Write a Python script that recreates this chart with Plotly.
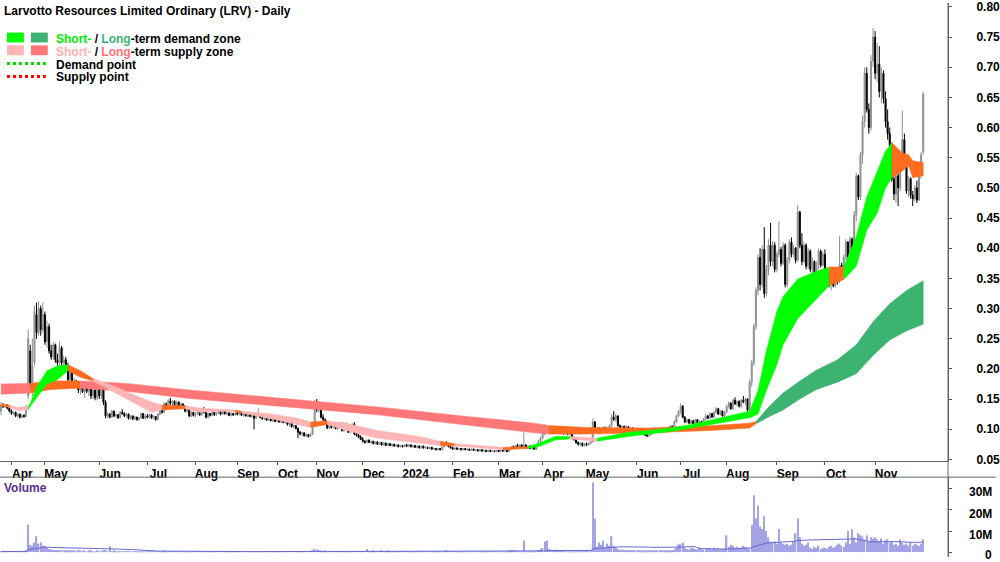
import plotly.graph_objects as go
import pandas as pd

FONT = "Liberation Sans Narrow, Arial Narrow, Liberation Sans, Arial, sans-serif"

month_labels = ["Apr", "May", "Jun", "Jul", "Aug", "Sep", "Oct", "Nov", "Dec", "2024",
                "Feb", "Mar", "Apr", "May", "Jun", "Jul", "Aug", "Sep", "Oct", "Nov"]

# Daily bars (open, high, low, close) in thousandths of a dollar, grouped by month
bars_mar23 = [(130,145,123,140),(140,143,135,138),(138,142,135,140),(140,141,133,135),(135,138,128,130)]
bars_apr23 = [(130,133,124,126),(126,130,124,128),(128,129,120,122),(122,126,120,125),(125,126,118,120),
              (120,124,118,123),(123,125,119,121),(121,140,120,135),(155,265,150,250),(230,240,165,172),
              (170,250,155,205),(210,305,205,295),(290,310,250,260),(260,312,255,300),(300,305,255,265),
              (265,310,260,290)]
bars_may23 = [(290,295,240,245),(245,280,235,270),(270,275,225,230),(230,240,215,220),(220,245,215,240),
              (240,242,210,215),(215,225,205,210),(210,245,205,235),(235,238,205,210),(210,222,200,215),
              (215,220,200,205),(205,210,178,182),(182,198,178,195),(195,197,175,178),(178,185,170,180),
              (180,182,168,170),(170,176,160,165),(165,172,158,170),(170,172,160,162),(162,178,152,175),
              (175,177,160,163),(163,170,155,167),(167,168,150,155),(155,168,150,165),(165,166,148,152),
              (152,170,148,168)]
bars_jun23 = [(168,172,150,155),(155,170,150,166),(166,168,140,145),(145,148,118,122),(122,128,118,125),
              (125,127,118,120),(120,132,119,130),(130,131,120,122),(122,126,118,124),(124,125,117,119),
              (119,130,118,128),(128,133,124,126),(126,128,120,122),(122,127,119,125),(125,126,116,118),
              (118,124,116,122),(122,123,115,117),(117,122,115,120),(120,121,114,116),(116,120,114,119),
              (119,128,117,126),(126,127,117,118),(118,124,116,122)]
bars_jul23 = [(122,125,118,120),(120,126,118,124),(124,125,117,119),(119,123,116,121),(121,122,114,116),
              (116,127,115,125),(125,133,123,131),(131,135,126,128),(128,145,127,142),(142,144,133,135),
              (135,150,134,147),(147,152,140,143),(143,148,138,146),(146,148,138,140),(140,147,138,145),
              (145,146,136,138),(138,144,136,142),(142,143,135,137),(137,140,128,130),(130,136,127,134),
              (134,135,120,122),(122,130,120,128),(128,129,121,123)]
bars_aug23 = [(123,128,120,126),(126,132,124,130),(130,131,122,124),(124,135,122,133),(133,137,126,128),
              (128,130,118,120),(120,128,118,126),(126,127,121,123),(123,130,122,128),(128,129,122,124),
              (124,128,122,127),(127,130,125,129),(129,130,123,125),(125,131,124,130),(130,131,124,126),
              (126,129,123,127),(127,128,122,123),(123,128,121,126),(126,127,122,124),(124,128,122,127)]
bars_sep23 = [(127,130,123,125),(125,129,123,128),(128,129,122,123),(123,127,121,126),(126,127,121,122),
              (122,126,120,125),(125,126,120,121),(121,124,119,123),(123,124,100,118),(118,124,117,122),
              (122,135,121,124),(124,125,118,119),(119,121,116,117),(117,120,115,118),(118,119,114,115),
              (115,119,114,117),(117,118,113,114),(114,118,112,116),(116,117,112,113)]
bars_oct23 = [(113,118,112,116),(116,117,111,112),(112,116,110,115),(115,116,110,111),(111,114,109,113),
              (113,114,106,108),(108,112,104,110),(110,111,103,104),(104,108,102,106),(106,107,100,101),
              (101,103,85,95),(95,97,90,92),(92,96,88,94),(94,95,88,89),(89,93,87,91),
              (91,92,86,88),(88,94,87,92),(92,112,90,110),(110,148,108,140)]
bars_nov23 = [(140,150,128,132),(132,146,128,142),(142,145,118,120),(120,125,114,116),(116,118,108,110),
              (110,113,100,102),(102,110,100,108),(108,110,101,103),(103,112,102,110),(110,111,100,101),
              (101,108,99,106),(106,112,104,110),(110,111,96,98),(98,106,95,104),(104,112,102,108),
              (108,109,94,95),(95,104,93,102),(102,110,100,108),(108,112,90,92),(92,94,88,90),
              (90,93,85,87),(87,90,82,83)]
bars_dec23 = [(83,87,78,80),(80,82,76,78),(78,83,77,82),(82,83,77,78),(78,81,76,80),
              (80,81,75,76),(76,80,75,79),(79,80,74,75),(75,79,74,78),(78,79,73,74),
              (74,78,73,77),(77,78,72,73),(73,77,72,76),(76,77,72,73),(73,76,71,75),
              (75,76,71,72),(72,75,71,74),(74,75,70,71),(71,74,70,73),(73,74,70,71)]
bars_jan24 = [(71,75,70,74),(74,76,71,72),(72,75,70,74),(74,75,70,71),(71,74,69,73),
              (73,74,69,70),(70,73,69,72),(72,73,68,69),(69,73,68,72),(72,73,68,69),
              (69,71,67,70),(70,71,67,68),(68,71,67,70),(70,71,66,67),(67,69,66,68),
              (68,69,65,66),(66,69,65,68),(68,69,65,66),(66,72,65,71),(71,79,70,77),
              (77,80,73,74),(74,76,70,71),(71,73,68,69)]
bars_feb24 = [(69,71,66,67),(67,70,66,69),(69,70,66,67),(67,69,65,68),(68,69,65,66),
              (66,69,65,68),(68,69,65,66),(66,68,64,67),(67,68,64,65),(65,68,64,67),
              (67,68,64,65),(65,67,63,66),(66,67,63,64),(64,67,63,66),(66,67,63,64),
              (64,66,62,65),(65,66,62,63),(63,66,62,65),(65,66,62,63),(63,65,62,64),
              (64,65,62,63),(63,66,62,65)]
bars_mar24 = [(65,66,62,63),(63,66,62,65),(65,66,63,64),(64,66,63,65),(65,66,62,63),
              (63,68,62,67),(67,72,66,71),(71,73,67,68),(68,74,67,73),(73,76,69,70),
              (70,75,69,74),(74,75,69,70),(70,95,69,74),(74,75,68,69),(69,73,68,72),
              (72,73,67,68),(68,72,66,71),(71,72,66,67),(67,73,66,72),(72,82,71,80),
              (80,88,77,85)]
bars_apr24 = [(85,95,83,93),(93,108,90,104),(104,106,94,96),(96,103,94,101),(101,102,94,96),
              (96,102,95,100),(100,101,93,95),(95,100,93,98),(98,99,92,94),(94,99,92,97),
              (97,98,91,93),(93,97,91,96),(96,97,90,92),(92,96,90,94),(94,95,83,85),
              (85,88,81,83),(83,84,76,78),(78,80,73,75),(75,78,72,77),(77,78,71,73),
              (73,77,71,76)]
bars_may24 = [(76,78,72,74),(74,78,73,77),(77,80,75,79),(79,118,78,112),(112,114,96,98),
              (98,104,95,102),(102,103,94,96),(96,102,95,100),(100,105,98,103),(103,104,96,98),
              (98,104,97,102),(102,108,100,106),(106,125,104,120),(120,130,114,116),(116,126,112,122),
              (122,123,104,106),(106,108,101,103),(103,106,100,105),(105,106,100,101),(101,106,100,104),
              (104,105,98,100),(100,104,98,102),(102,103,96,98),(98,102,96,100)]
bars_jun24 = [(100,101,94,96),(96,99,93,97),(97,98,91,93),(93,96,90,94),(94,95,89,90),
              (90,93,87,89),(89,92,87,91),(91,97,90,95),(95,100,93,98),(98,103,96,101),
              (101,102,95,97),(97,102,96,100),(100,101,94,96),(96,100,95,99),(99,100,95,97),
              (97,103,96,102),(102,107,100,105),(105,106,100,102),(102,115,101,112),(112,124,110,122),
              (122,132,120,130)]
bars_jul24 = [(130,143,125,138),(138,140,118,120),(120,122,110,112),(112,118,110,116),(116,117,109,110),
              (110,116,109,114),(114,115,108,109),(109,117,108,116),(116,117,110,111),(111,115,109,113),
              (113,114,108,110),(110,118,109,117),(117,125,115,122),(122,124,117,118),(118,128,117,126),
              (126,127,119,120),(120,130,119,128),(128,137,126,134),(134,135,124,125),(125,132,123,130),
              (130,131,121,122),(122,130,120,128)]
bars_aug24 = [(128,140,126,138),(138,146,134,143),(143,145,132,134),(134,150,132,148),(148,153,140,142),
              (142,148,138,146),(146,148,136,138),(138,150,136,148),(148,155,143,145),(145,152,140,150),
              (150,151,128,132),(132,182,130,178),(178,215,170,210),(210,275,205,270),(270,335,265,330),
              (330,390,322,385),(385,400,330,340),(340,405,335,398),(398,435,318,325),(325,372,320,365),
              (365,415,355,405),(405,442,370,378),(378,412,370,405),(405,410,360,365)]
bars_sep24 = [(365,395,360,390),(390,445,385,398),(398,402,370,375),(375,410,372,405),(405,408,335,340),
              (340,385,335,380),(380,415,375,410),(410,418,385,390),(390,405,385,400),(400,402,375,380),
              (380,472,378,460),(460,462,400,405),(405,425,372,378),(378,410,375,405),(405,408,365,370),
              (370,400,366,395),(395,398,360,365),(365,385,358,378),(378,380,355,360),(360,378,356,372),
              (372,400,365,395),(395,398,368,372),(372,395,370,390)]
bars_oct24 = [(390,398,345,350),(350,365,340,360),(360,362,335,340),(340,358,330,352),(352,355,335,338),
              (338,365,335,360),(360,362,340,345),(345,420,342,372),(372,376,355,358),(358,390,355,385),
              (385,415,380,410),(410,412,378,382),(382,420,380,415),(415,418,392,395),(395,462,390,455),
              (455,525,445,520),(520,522,480,485),(485,560,480,555),(555,620,540,610),(610,700,600,690),
              (690,700,625,630),(630,640,590,600),(600,720,595,710),(710,765,700,750)]
bars_nov24 = [(750,760,680,690),(690,740,675,705),(705,735,650,660),(660,700,640,690),(690,695,640,648),
              (648,660,600,610),(610,630,580,590),(590,600,560,570),(570,575,510,515),(515,520,480,490),
              (490,525,475,520),(520,530,470,500),(500,560,495,550),(545,628,540,580),(580,590,540,545),
              (545,550,490,495),(495,520,485,515),(515,518,482,488),(488,495,470,482),(482,505,478,500),
              (500,512,475,480),(480,535,478,530),(530,560,515,555),(560,660,555,655)]

# Daily volume in units of 100k shares, grouped by month
vol_mar23 = [3,2,4,2,3]
vol_apr23 = [2,3,2,4,2,3,2,8,130,35,30,45,75,40,45,30]
vol_may23 = [30,20,15,12,10,8,10,6,8,5,6,8,5,6,5,4,5,6,4,5,4,6,5,4,3,5]
vol_jun23 = [4,3,6,10,3,28,3,5,3,4,3,2,3,4,3,2,3,4,3,2,3,2,3]
vol_jul23 = [2,3,2,3,2,3,4,3,5,3,4,3,2,3,2,3,2,2,3,2,3,2,2]
vol_aug23 = [2,2,3,2,2,3,2,2,3,2,2,2,3,2,2,2,2,2,3,2]
vol_sep23 = [1,2,1,1,2,1,2,1,3,2,1,2,1,1,2,1,1,2,1]
vol_oct23 = [1,2,1,1,2,1,1,2,1,1,3,2,1,1,2,1,2,6,15]
vol_nov23 = [12,8,6,4,5,3,4,3,4,3,2,3,4,3,2,3,2,4,3,2,3,2]
vol_dec23 = [3,2,15,4,3,5,3,4,3,6,4,3,5,4,3,2,3,2,2,3]
vol_jan24 = [2,3,2,4,3,2,3,2,3,2,3,2,2,3,2,2,3,2,3,4,5,3,2]
vol_feb24 = [2,3,2,2,3,2,2,3,2,2,3,2,3,4,2,3,2,2,3,2,3,2]
vol_mar24 = [3,2,4,3,3,5,8,6,5,4,4,3,55,4,3,3,4,3,3,8,12]
vol_apr24 = [20,50,55,15,10,8,12,6,5,6,4,5,3,4,3,4,3,4,5,4,3]
vol_may24 = [5,6,8,330,160,25,45,35,55,20,40,30,75,30,20,15,10,12,8,10,8,6,8,7]
vol_jun24 = [6,5,7,6,5,8,6,7,5,6,8,6,7,9,6,5,8,7,12,20,35]
vol_jul24 = [40,45,20,15,12,18,20,15,12,20,15,12,14,18,15,12,20,15,18,12,14,16]
vol_aug24 = [80,25,35,30,20,25,15,20,30,25,20,15,130,270,160,220,120,110,170,100,70,50,45,50]
vol_sep24 = [40,110,45,40,35,40,30,35,50,90,160,70,40,30,35,45,20,15,25,20,30,15,20]
vol_oct24 = [20,15,25,30,20,25,35,40,30,25,45,100,40,110,70,45,90,80,75,60,80,50,70,65]
vol_nov24 = [70,60,50,65,40,55,60,45,50,35,40,30,60,45,35,40,30,45,30,40,35,30,40,60]

# Zone bands: bar index, upper edge, lower edge, state (d=demand, s=supply, t=transition)
lt_bar = [0,14,24,38,60,90,130,180,215,255,262,280,310,340,358,361,368,374,382,390,400,409,417,425,433,441]
lt_top = [0.175,0.176,0.180,0.180,0.176,0.165,0.153,0.137,0.124,0.110,0.106,0.103,0.102,0.106,0.110,
          0.113,0.140,0.160,0.180,0.198,0.215,0.240,0.278,0.308,0.330,0.346]
lt_bot = [0.158,0.160,0.166,0.168,0.163,0.151,0.139,0.124,0.110,0.094,0.092,0.092,0.094,0.098,0.102,
          0.109,0.122,0.132,0.150,0.166,0.178,0.192,0.222,0.248,0.263,0.274]
lt_state = list("stt" "sssssss" "ttttt" "ddddddddddd")

st_bar = [0,4,8,13,14,17,22,27,32,38,44,52,63,72,77,88,95,105,112,115,130,142,148,156,165,180,200,210,217,240,
          252,258,265,272,285,300,310,322,330,340,350,358,362,366,371,374,381,390,396,403,409,414,419,423,426,431,434,436,441]
st_top = [0.142,0.140,0.136,0.138,0.143,0.170,0.197,0.205,0.207,0.197,0.184,0.174,0.158,0.145,0.140,0.139,0.135,0.133,0.132,0.130,
          0.125,0.118,0.112,0.114,0.110,0.098,0.088,0.080,0.076,0.070,0.071,0.078,0.088,0.088,0.085,0.095,0.098,0.103,0.108,0.116,
          0.124,0.130,0.164,0.230,0.295,0.320,0.349,0.362,0.369,0.369,0.420,0.485,0.529,0.561,0.575,0.558,0.555,0.545,0.542]
st_bot = [0.139,0.136,0.131,0.132,0.138,0.153,0.175,0.182,0.197,0.186,0.180,0.166,0.145,0.128,0.132,0.134,0.128,0.130,0.129,0.127,
          0.117,0.108,0.103,0.108,0.098,0.085,0.077,0.073,0.072,0.066,0.068,0.072,0.082,0.084,0.080,0.088,0.092,0.097,0.101,0.108,
          0.114,0.119,0.125,0.164,0.207,0.240,0.283,0.316,0.338,0.348,0.370,0.430,0.458,0.500,0.517,0.528,0.537,0.517,0.520]
st_state = list("tssdddddtt" "sssstsssts" "sstsssstst" "dddsdddddd" "ddddddddtd" "ddddttttt")

price_months = [bars_mar23, bars_apr23, bars_may23, bars_jun23, bars_jul23, bars_aug23, bars_sep23,
                bars_oct23, bars_nov23, bars_dec23, bars_jan24, bars_feb24, bars_mar24, bars_apr24,
                bars_may24, bars_jun24, bars_jul24, bars_aug24, bars_sep24, bars_oct24, bars_nov24]
vol_months = [vol_mar23, vol_apr23, vol_may23, vol_jun23, vol_jul23, vol_aug23, vol_sep23,
              vol_oct23, vol_nov23, vol_dec23, vol_jan24, vol_feb24, vol_mar24, vol_apr24,
              vol_may24, vol_jun24, vol_jul24, vol_aug24, vol_sep24, vol_oct24, vol_nov24]

# ---- build series ----
opens, highs, lows, closes, vols, month_start = [], [], [], [], [], []
for k, (pm, vm) in enumerate(zip(price_months, vol_months)):
    if k > 0:
        month_start.append(len(opens))
    for (o, h, l, c) in pm:
        opens.append(o / 1000); highs.append(h / 1000); lows.append(l / 1000); closes.append(c / 1000)
    n = len(pm)
    vv = list(vm)[:n] + [vm[-1]] * max(0, n - len(vm))
    vols.extend(v * 1e5 for v in vv)
idx = list(range(len(opens)))
vol_ma = pd.Series(vols).rolling(50, min_periods=1).mean().tolist()

W, H, R = 1000, 562, 48
PW = W - R
def px(x):
    return x / PW
def py(y):
    return 1 - y / H

fig = go.Figure()

LT_COL = {"d": "#3CB371", "s": "#FF7777", "t": "#FF6B1F"}
ST_COL = {"d": "#00FF00", "s": "#FFB5B5", "t": "#FF6B1F"}

def add_band(bars, top, bot, state, cmap):
    n = len(bars)
    start = 0
    for k in range(1, n + 1):
        if k == n or state[k] != state[start]:
            end = min(k, n - 1)
            if end > start:
                xs = bars[start:end + 1]
                xpoly = xs + xs[::-1]
                ypoly = top[start:end + 1] + bot[start:end + 1][::-1]
                col = cmap[state[start]]
                fig.add_trace(go.Scatter(x=xpoly, y=ypoly, mode="lines", fill="toself",
                                         fillcolor=col, line=dict(width=0.5, color=col),
                                         hoverinfo="skip", xaxis="x", yaxis="y"))
            start = k

add_band(lt_bar, lt_top, lt_bot, lt_state, LT_COL)
add_band(st_bar, st_top, st_bot, st_state, ST_COL)

fig.add_trace(go.Candlestick(
    x=idx, open=opens, high=highs, low=lows, close=closes,
    increasing=dict(line=dict(color="#8f8f8f", width=1), fillcolor="#a8a8a8"),
    decreasing=dict(line=dict(color="#000000", width=1), fillcolor="#000000"),
    whiskerwidth=0, xaxis="x", yaxis="y", hoverinfo="skip"))

fig.add_trace(go.Bar(x=idx, y=vols, marker=dict(color="#A3A3E6", line=dict(width=0)),
                     xaxis="x2", yaxis="y2", hoverinfo="skip"))
fig.add_trace(go.Scatter(x=idx, y=vol_ma, mode="lines", line=dict(color="#6868D4", width=1),
                         xaxis="x2", yaxis="y2", hoverinfo="skip"))

xr = [-1 / 2.1, -1 / 2.1 + PW / 2.1]
price_ticks = [round(0.05 * k, 2) for k in range(1, 17)]

fig.update_layout(
    width=W, height=H, margin=dict(l=0, r=R, t=0, b=0),
    paper_bgcolor="white", plot_bgcolor="white", showlegend=False, bargap=0.35,
    xaxis=dict(domain=[0, 1], range=xr, anchor="y", showgrid=False, zeroline=False,
               tickmode="array", tickvals=month_start, ticktext=month_labels,
               ticks="outside", ticklen=3, tickcolor="#555", showline=True, linecolor="#666",
               linewidth=1, ticklabelshift=11, ticklabelstandoff=-2,
               tickfont=dict(family=FONT, size=12, color="black", weight="bold"),
               rangeslider=dict(visible=False)),
    yaxis=dict(domain=[1 - 465 / H, 1], range=[0.0467, 0.8065], side="right", anchor="x",
               showgrid=False, zeroline=False, tickmode="array", tickvals=price_ticks,
               ticktext=["%.2f" % t for t in price_ticks], ticks="outside", ticklen=3,
               tickcolor="#555", showline=True, linecolor="#666", ticklabelstandoff=22,
               ticklabeloverflow="allow",
               tickfont=dict(family=FONT, size=12, color="black", weight="bold")),
    xaxis2=dict(domain=[0, 1], range=xr, anchor="y2", visible=False),
    yaxis2=dict(domain=[0, 81 / H], range=[-2.34e6, 35.6e6], side="right", anchor="x2",
                showgrid=False, zeroline=False, tickmode="array",
                tickvals=[0, 10e6, 20e6, 30e6], showticklabels=False, ticks="outside",
                ticklen=3, tickcolor="#555", showline=True, linecolor="#666"),
)

shapes = [
    dict(type="line", xref="paper", yref="paper", x0=0, x1=W / PW, y0=py(481), y1=py(481),
         line=dict(color="#666", width=1)),
    dict(type="line", xref="paper", yref="paper", x0=1, x1=1, y0=0, y1=1,
         line=dict(color="#666", width=1)),
    dict(type="rect", xref="paper", yref="paper", x0=px(7), x1=px(24), y0=py(40), y1=py(30),
         fillcolor="#00FF00", line=dict(width=0)),
    dict(type="rect", xref="paper", yref="paper", x0=px(31), x1=px(48), y0=py(40), y1=py(30),
         fillcolor="#3CB371", line=dict(width=0)),
    dict(type="rect", xref="paper", yref="paper", x0=px(7), x1=px(24), y0=py(53), y1=py(43),
         fillcolor="#FFB5B5", line=dict(width=0)),
    dict(type="rect", xref="paper", yref="paper", x0=px(31), x1=px(48), y0=py(53), y1=py(43),
         fillcolor="#FF7777", line=dict(width=0)),
    dict(type="line", xref="paper", yref="paper", x0=px(7), x1=px(46), y0=py(61.5), y1=py(61.5),
         line=dict(color="#00DD00", width=3, dash="dot")),
    dict(type="line", xref="paper", yref="paper", x0=px(7), x1=px(46), y0=py(74.5), y1=py(74.5),
         line=dict(color="#FF0000", width=3, dash="dot")),
]

def ann(text, x, y, color="black", xanchor="left", size=12):
    return dict(text=text, x=px(x), y=py(y), xref="paper", yref="paper", showarrow=False,
                xanchor=xanchor, yanchor="middle",
                font=dict(family=FONT, size=size, color=color, weight="bold"))

annotations = [
    ann("Larvotto Resources Limited Ordinary (LRV) - Daily", 2, 8.5),
    ann("<span style='color:#00EE00'>Short-</span> / <span style='color:#3CB371'>Long</span>-term demand zone", 54, 36.5),
    ann("<span style='color:#FFB0B0'>Short-</span> / <span style='color:#FF7070'>Long</span>-term supply zone", 54, 49.5),
    ann("Demand point", 54, 63),
    ann("Supply point", 54, 75.5),
    ann("Volume", 2, 492, color="#5B2D8E"),
]
for val, lab, yy in [(30e6, "30M", 496.5), (20e6, "20M", 518), (10e6, "10M", 539.5), (0, "0", 559.5)]:
    annotations.append(ann(lab, 998, yy, xanchor="right"))

fig.update_layout(shapes=shapes, annotations=annotations)
fig.write_html("out.html")
